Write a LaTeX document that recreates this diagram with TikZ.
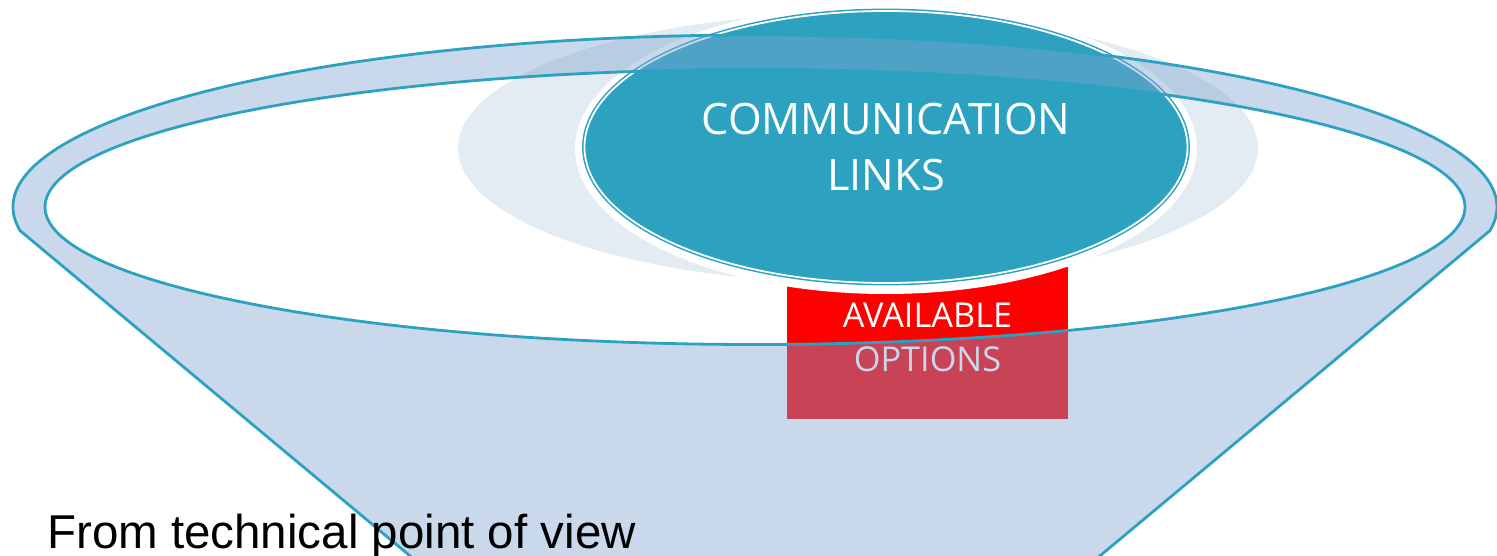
\documentclass[tikz,border=0pt]{standalone}
\usepackage{fontspec}
\newfontfamily\opensans{Open Sans}
\newfontfamily\arialfont{Liberation Sans}
\usepackage{tikz}
\usetikzlibrary{positioning, shapes.geometric}
\definecolor{linkteal}{HTML}{2CA2C0}
\definecolor{funnelblue}{HTML}{7EA2CD}
\definecolor{haze}{HTML}{E3ECF2}

\begin{document}
\begin{tikzpicture}[x=1pt,y=1pt]
	\tikzstyle{rim}=[draw=linkteal,line width=2.8pt]
	\tikzstyle{oval}=[ellipse,fill=linkteal,draw=linkteal,double=white,double distance=1.8pt,line width=1.5pt,minimum width=603,minimum height=272,inner sep=0pt,text=white,align=center,font=\opensans\fontsize{43.3}{56}\selectfont]
	\tikzstyle{box}=[rectangle,fill=red,minimum width=281,minimum height=164,inner sep=0pt,text=white,align=center,font=\opensans\fontsize{34.3}{44}\selectfont]
	\useasboundingbox (0,0) rectangle (1497,555);
	\clip (0,0) rectangle (1497,555);
	\coordinate (ctr) at (755,348);
	\coordinate (cc) at (886,406.5);
	\coordinate (ltop) at ([shift={(187.9:742 and 172)}]ctr);
	\coordinate (rtop) at ([shift={(-7.9:742 and 172)}]ctr);
	\coordinate (lbot) at (421,-10);
	\coordinate (rbot) at (1089,-10);
	% soft glow behind the links
	\fill[haze] (858,407) ellipse [x radius=400,y radius=135];
	\node[box](opts) at (927.5,218){AVAILABLE\\OPTIONS};
	\fill[white] (cc) ellipse [x radius=311,y radius=145.5];
	\node[oval](comm) at ([yshift=1.5]cc){COMMUNICATION\\LINKS};
	% funnel, see-through
	\path[fill=funnelblue,fill opacity=0.42,even odd rule]
		(ltop) arc[start angle=187.9,end angle=-7.9,x radius=742,y radius=172] -- (rbot) -- (lbot) -- cycle
		(ctr) ellipse [x radius=710,y radius=137.5];
	\draw[rim] (lbot) -- (ltop) arc[start angle=187.9,end angle=-7.9,x radius=742,y radius=172] -- (rbot);
	\draw[rim] (ctr) ellipse [x radius=710,y radius=137.5];
	\node[anchor=base west,inner sep=0pt,font=\arialfont\fontsize{47.5}{57}\selectfont](view) at (47,7){From technical point of view};
\end{tikzpicture}
\end{document}
